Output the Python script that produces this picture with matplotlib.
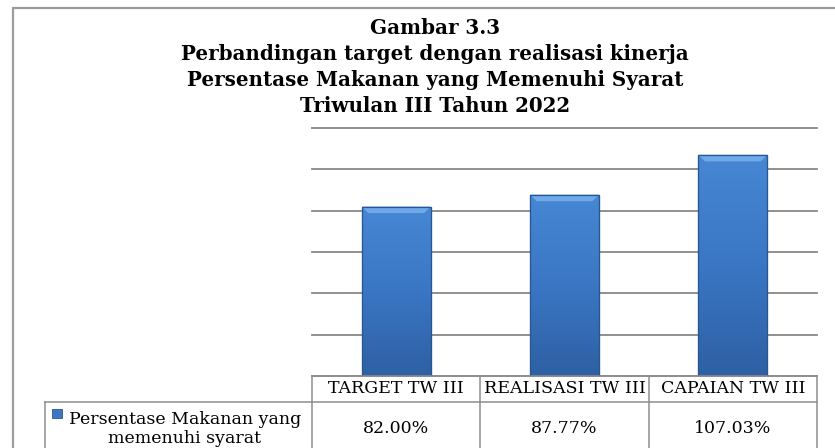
import matplotlib
matplotlib.use('Agg')
import matplotlib.pyplot as plt
import numpy as np
from matplotlib.lines import Line2D
from matplotlib.patches import Rectangle, Polygon

# ---- data ----
categories = ['TARGET TW III', 'REALISASI TW III', 'CAPAIAN TW III']
values = [82.00, 87.77, 107.03]
series_name = 'Persentase Makanan yang\nmemenuhi syarat'
title_lines = ['Gambar 3.3',
               'Perbandingan target dengan realisasi kinerja',
               'Persentase Makanan yang Memenuhi Syarat',
               'Triwulan III Tahun 2022']
y_ticks = [0, 20, 40, 60, 80, 100, 120]

W, H = 835, 448
fig = plt.figure(figsize=(W / 100, H / 100), dpi=100)
fig.patch.set_facecolor('white')


def fx(px):
    return px / W


def fy(py):
    return 1 - py / H


SERIF = 'DejaVu Serif'
LINE_C = '#8e8e8e'
LW = 1.1

# plot area
ax = fig.add_axes([fx(312), fy(376), (817 - 312) / W, (376 - 128) / H])
xpos = np.arange(len(categories))
bars = ax.bar(xpos, values, width=0.41, color='#3a76c2', edgecolor='#2a5690',
              linewidth=0.8, zorder=3)
ax.set_xlim(-0.5, len(categories) - 0.5)
ax.set_ylim(y_ticks[0], y_ticks[-1])
ax.set_yticks(y_ticks)
ax.yaxis.grid(True, color='#888888', linewidth=1.3)
for gl in ax.get_ygridlines():
    gl.set_clip_on(False)
ax.set_axisbelow(True)
ax.tick_params(left=False, bottom=False, labelleft=False, labelbottom=False)
for s in ax.spines.values():
    s.set_visible(False)

# gradient + bevel on bars
grad = np.linspace(0, 1, 256).reshape(-1, 1)
cmap = matplotlib.colors.LinearSegmentedColormap.from_list(
    'bar', ['#4787d4', '#3a76c4', '#2e60a3'])
for b in bars:
    x0, y0 = b.get_x(), b.get_y()
    w, h = b.get_width(), b.get_height()
    im = ax.imshow(grad, cmap=cmap, extent=[x0, x0 + w, y0, y0 + h],
                   origin='upper', aspect='auto', zorder=3.5)
    im.set_clip_path(b)
    bh = 3.2
    bw = 0.04
    ax.add_patch(Polygon([[x0, y0 + h], [x0 + w, y0 + h],
                          [x0 + w - bw, y0 + h - bh], [x0 + bw, y0 + h - bh]],
                         closed=True, facecolor='#6fa9ea', edgecolor='none',
                         zorder=3.6))
    ax.add_patch(Rectangle((x0, y0), w, h, facecolor='none',
                           edgecolor='#2a5690', linewidth=0.9, zorder=3.7))
ax.set_xlim(-0.5, len(categories) - 0.5)
ax.set_ylim(y_ticks[0], y_ticks[-1])

# outer chart border
fig.add_artist(Rectangle((fx(13), fy(H + 20)), (W + 20) / W, (H + 12) / H,
                         transform=fig.transFigure, facecolor='none',
                         edgecolor='#9c9c9c', linewidth=1.6))

# title
title_y = [28, 54, 80, 106]
for t, yy in zip(title_lines, title_y):
    fig.text(fx(435), fy(yy), t, ha='center', va='center', family=SERIF,
             fontweight='bold', fontsize=14.3, color='black')

# data table
fig.canvas.draw()
col_edges = [ax.transData.transform((e, 0))[0] for e in
             np.arange(len(categories) + 1) - 0.5]
col_edges = [fx(c) for c in col_edges]
top_hdr, bot_hdr, bottom = fy(376), fy(401.5), fy(H + 5)
label_left = fx(45)


def hline(x0, x1, y):
    fig.add_artist(Line2D([x0, x1], [y, y], transform=fig.transFigure,
                          color=LINE_C, linewidth=LW))


def vline(x, y0, y1):
    fig.add_artist(Line2D([x, x], [y0, y1], transform=fig.transFigure,
                          color=LINE_C, linewidth=LW))


hline(col_edges[0], col_edges[-1], top_hdr)
hline(label_left, col_edges[-1], bot_hdr)
for c in col_edges:
    vline(c, top_hdr, bottom)
vline(label_left, bot_hdr, bottom)

for i, cat in enumerate(categories):
    cx = (col_edges[i] + col_edges[i + 1]) / 2
    fig.text(cx, fy(388.5), cat, ha='center', va='center', family=SERIF,
             fontsize=12.5, color='black')
    fig.text(cx, fy(428), f'{values[i]:.2f}%', ha='center', va='center',
             family=SERIF, fontsize=12.5, color='black')

# legend key + series name
fig.add_artist(Rectangle((fx(52), fy(418)), 10 / W, 9 / H,
                         transform=fig.transFigure, facecolor='#3a76c2',
                         edgecolor='#2a5690', linewidth=0.6))
fig.text(fx(185), fy(429), series_name, ha='center', va='center',
         family=SERIF, fontsize=12.5, color='black', linespacing=1.1,
         multialignment='center')

fig.savefig('out.png', dpi=100, facecolor='white')
